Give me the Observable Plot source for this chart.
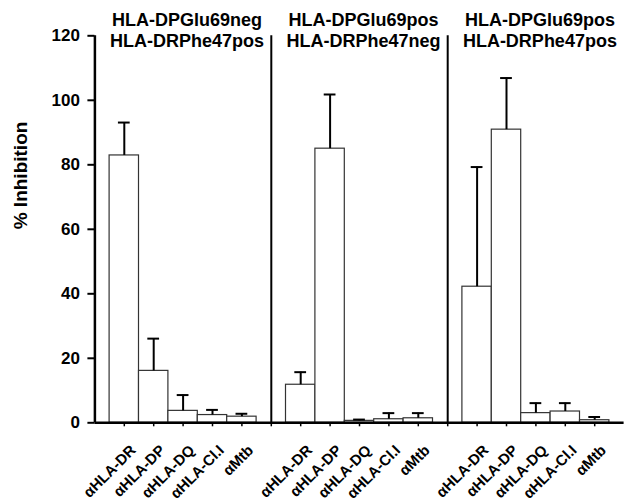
<!DOCTYPE html>
<html>
<head>
<meta charset="utf-8">
<script src="https://cdn.jsdelivr.net/npm/d3@7"></script>
<script src="https://cdn.jsdelivr.net/npm/@observablehq/plot@0.6"></script>
<style>
  html, body { margin: 0; padding: 0; background: #fff; }
  #chart svg { display: block; }
</style>
</head>
<body>
<div id="chart"></div>
<script>
// ---- data ----
const headerLine1 = ["HLA-DPGlu69neg", "HLA-DPGlu69pos", "HLA-DPGlu69pos"];
const headerLine2 = ["HLA-DRPhe47pos", "HLA-DRPhe47neg", "HLA-DRPhe47pos"];
const antibodies = ["\u03b1HLA-DR", "\u03b1HLA-DP", "\u03b1HLA-DQ", "\u03b1HLA-Cl.I", "\u03b1Mtb"];
const meanG1 = [82.9, 16.1, 3.7, 2.4, 1.9];
const meanG2 = [11.8, 85.0, 0.6, 1.1, 1.4];
const meanG3 = [42.2, 90.9, 3.0, 3.5, 0.8];
const errG1 = [10.2, 10.0, 4.9, 1.6, 0.9];
const errG2 = [3.9, 16.8, 0.4, 1.9, 1.6];
const errG3 = [37.1, 16.0, 3.1, 2.6, 1.0];
const yTicks = [0, 20, 40, 60, 80, 100, 120];

// ---- derived table ----
const means = [meanG1, meanG2, meanG3];
const errs = [errG1, errG2, errG3];
const perGroup = antibodies.length + 1; // one empty slot between groups
const rows = [];
means.forEach((vals, g) => vals.forEach((v, a) => rows.push({
  slot: g * perGroup + a + 1, ab: antibodies[a], value: v, hi: v + errs[g][a]
})));
const groups = headerLine1.map((h, g) => ({
  center: g * perGroup + (antibodies.length + 1) / 2, l1: h, l2: headerLine2[g]
}));
const dividers = d3.range(1, headerLine1.length).map(g => g * perGroup);
const maxSlot = headerLine1.length * perGroup;
const slotTicks = d3.range(1, maxSlot);

const font = "Liberation Sans, Arial, Helvetica, sans-serif";

const chart = Plot.plot({
  width: 624,
  height: 503,
  marginLeft: 94.4,
  marginRight: 0.4,
  marginTop: 35.3,
  marginBottom: 80.7,
  style: {fontFamily: font, fontWeight: "bold", fontSize: "17px", color: "#000", background: "#fff"},
  x: {type: "linear", domain: [0, maxSlot], axis: null},
  y: {domain: [0, 120], axis: null},
  marks: [
    Plot.axisY({ticks: yTicks, tickSize: 7, tickPadding: 8, strokeWidth: 2, fontSize: 17, fontWeight: "bold", label: null}),
    Plot.axisX({ticks: slotTicks, tickFormat: () => "", tickSize: 4, strokeWidth: 1.5, label: null}),
    Plot.rect(rows, {x1: d => d.slot - 0.5, x2: d => d.slot + 0.5, y1: 0, y2: "value", fill: "#fff", stroke: "#333", strokeWidth: 1.2}),
    Plot.ruleX(rows, {x: "slot", y1: "value", y2: "hi", stroke: "#000", strokeWidth: 2}),
    Plot.ruleY(rows, {y: "hi", x1: d => d.slot - 0.2, x2: d => d.slot + 0.2, stroke: "#000", strokeWidth: 2}),
    Plot.ruleX(dividers, {x: d => d, y1: 0, y2: 120, stroke: "#000", strokeWidth: 2}),
    Plot.ruleX([0], {y1: 0, y2: 120, stroke: "#000", strokeWidth: 2.5}),
    Plot.ruleY([0], {x1: 0, x2: maxSlot, stroke: "#000", strokeWidth: 2.5}),
    Plot.text(groups, {x: "center", y: 120, text: "l1", dx: 4, dy: -15.5, fontSize: 18, fontWeight: "bold"}),
    Plot.text(groups, {x: "center", y: 120, text: "l2", dx: 4, dy: 5, fontSize: 18, fontWeight: "bold"}),
    Plot.text(rows, {x: "slot", y: 0, text: "ab", rotate: -45, textAnchor: "end", dx: 9, dy: 25, fontSize: 15, fontWeight: "bold"}),
    Plot.text(["% Inhibition"], {frameAnchor: "left", text: d => d, rotate: -90, dx: -74, fontSize: 19, fontWeight: "bold"})
  ]
});
document.getElementById("chart").append(chart);
</script>
</body>
</html>
